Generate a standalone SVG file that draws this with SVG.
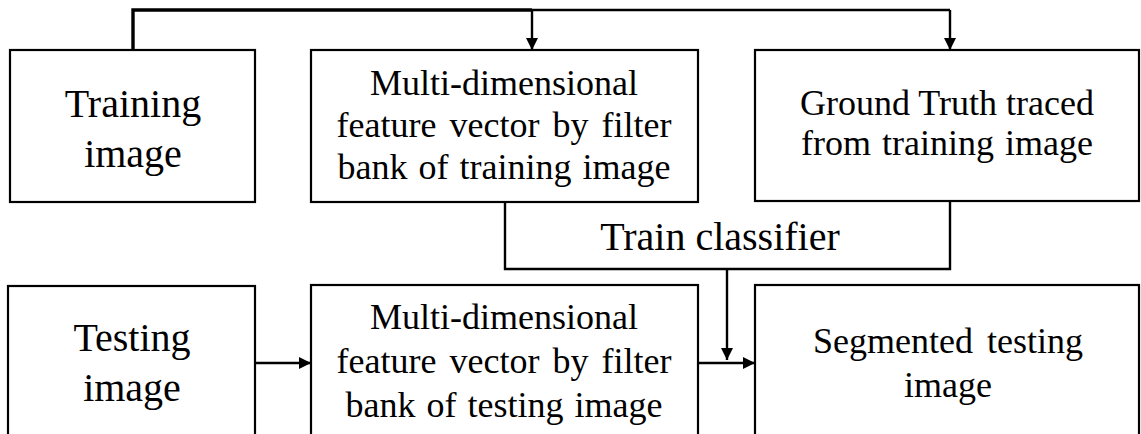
<svg xmlns="http://www.w3.org/2000/svg" width="1141" height="434" viewBox="0 0 1141 434">
<style>
.box{fill:#fff;stroke:#000;stroke-width:2.2}
.ln{fill:none;stroke:#000;stroke-width:2.4}
.t{font-family:"Liberation Serif","Times New Roman",serif;fill:#000;text-anchor:middle}
.l{font-size:40px}
.m{font-size:36px}
</style>
<defs>
<marker id="ah" viewBox="0 0 12 12" refX="12" refY="6" markerWidth="12" markerHeight="12" markerUnits="userSpaceOnUse" orient="auto">
<path d="M0,0 L12,6 L0,12 Z" fill="#000"/>
</marker>
</defs>
<rect width="1141" height="434" fill="#fff"/>
<g id="connectors">
<path class="ln" d="M133,50 V10 H532" style="stroke-width:3.4"/>
<path class="ln" d="M532,10 H950"/>
<path class="ln" d="M532,10 V50" marker-end="url(#ah)"/>
<path class="ln" d="M950,10 V50" marker-end="url(#ah)"/>
<path class="ln" d="M505,202 V269 H950 V201"/>
<path class="ln" d="M727,269 V360" marker-end="url(#ah)"/>
<path class="ln" d="M255,363 H311" marker-end="url(#ah)"/>
<path class="ln" d="M698,363 H755" marker-end="url(#ah)"/>
</g>
<g id="training-image">
<rect class="box" x="10" y="50" width="245" height="152"/>
<text class="t l" x="133" y="117">Training</text>
<text class="t l" x="133" y="167">image</text>
</g>
<g id="feature-training">
<rect class="box" x="311" y="50" width="387" height="152"/>
<text class="t m" x="504" y="95">Multi-dimensional</text>
<text class="t m" x="504" y="137" word-spacing="4">feature vector by filter</text>
<text class="t m" x="504" y="179" word-spacing="2">bank of training image</text>
</g>
<g id="ground-truth">
<rect class="box" x="755" y="50" width="384" height="151"/>
<text class="t m" x="947" y="115">Ground Truth traced</text>
<text class="t m" x="947" y="155" word-spacing="2">from training image</text>
</g>
<g id="train-classifier">
<text class="t l" x="720" y="250">Train classifier</text>
</g>
<g id="testing-image">
<rect class="box" x="8" y="286" width="247" height="160"/>
<text class="t l" x="132" y="351">Testing</text>
<text class="t l" x="132" y="401">image</text>
</g>
<g id="feature-testing">
<rect class="box" x="311" y="285" width="387" height="160"/>
<text class="t m" x="504" y="329">Multi-dimensional</text>
<text class="t m" x="504" y="373" word-spacing="4">feature vector by filter</text>
<text class="t m" x="504" y="417" word-spacing="2">bank of testing image</text>
</g>
<g id="segmented">
<rect class="box" x="755" y="285" width="384" height="160"/>
<text class="t m" x="948" y="353" word-spacing="5">Segmented testing</text>
<text class="t m" x="948" y="397">image</text>
</g>
</svg>
